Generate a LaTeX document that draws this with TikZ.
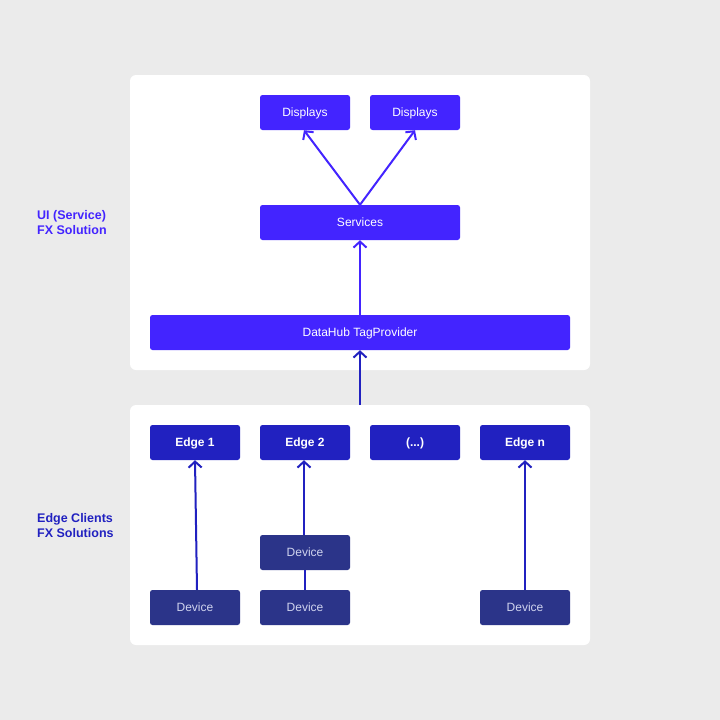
\documentclass[tikz,border=0pt]{standalone}
\usepackage{fontspec}
\setmainfont{Liberation Sans}
\usetikzlibrary{arrows.meta}
\definecolor{bgc}{HTML}{EBEBEB}
\definecolor{violet}{HTML}{4324FF}
\definecolor{edgec}{HTML}{2121C0}
\definecolor{devc}{HTML}{2B3489}
\definecolor{devtxt}{HTML}{D0D4EE}
\tikzset{
  panel/.style={fill=white, rounded corners=6pt, draw=none},
  boxbase/.style={rectangle, rounded corners=2.5pt, inner sep=0pt, text height=8pt, text depth=0pt, minimum width=90pt, minimum height=35pt, font=\fontsize{12}{14}\selectfont},
  topbox/.style={boxbase, fill=violet, text=white},
  edgebox/.style={boxbase, fill=edgec, text=white, font=\fontsize{12}{14}\selectfont\bfseries},
  devbox/.style={boxbase, fill=devc, text=devtxt},
  sidelabel/.style={anchor=north west, align=left, inner sep=0pt, font=\fontsize{12.5}{15}\selectfont\bfseries},
  barb/.tip={Straight Barb[length=6pt,width=13pt,line width=2pt]},
  varrow/.style={draw=violet, line width=2pt, -barb},
  earrow/.style={draw=edgec, line width=2pt, -barb},
}
\begin{document}
\begin{tikzpicture}[x=1pt,y=-1pt]
\path[fill=bgc, use as bounding box] (0,0) rectangle (720,720);
\fill[panel] (130,75) rectangle (590,370);
\fill[panel] (130,405) rectangle (590,645);
\coordinate (entry) at (360,405);

\node[topbox] (disp1) at (305,112.5) {Displays};
\node[topbox] (disp2) at (415,112.5) {Displays};
\node[topbox, minimum width=200pt] (serv) at (360,222.5) {Services};
\node[topbox, minimum width=420pt] (hub) at (360,332.5) {DataHub TagProvider};

\node[edgebox] (e1) at (195,442.5) {Edge 1};
\node[edgebox] (e2) at (305,442.5) {Edge 2};
\node[edgebox] (e3) at (415,442.5) {(...)};
\node[edgebox] (en) at (525,442.5) {Edge n};

\node[devbox] (d1) at (195,607.5) {Device};
\node[devbox] (d2) at (305,607.5) {Device};
\node[devbox] (d2m) at (305,552.5) {Device};
\node[devbox] (dn) at (525,607.5) {Device};

\node[sidelabel, text=violet] (lab1) at (37,210.5) {UI (Service)\\FX Solution};
\node[sidelabel, text=edgec] (lab2) at (37,513.5) {Edge Clients\\FX Solutions};

\draw[varrow] (serv.north) -- ([xshift=-1pt]disp1.south);
\draw[varrow] (serv.north) -- (disp2.south);
\draw[varrow] (hub.north) -- (serv.south);
\draw[earrow] (entry) -- (hub.south);

\draw[earrow] ([xshift=2pt]d1.north) -- (e1.south);
\draw[edgec, line width=2pt] (d2.north) -- (d2m.south);
\draw[earrow] ([xshift=-1pt]d2m.north) -- ([xshift=-1pt]e2.south);
\draw[earrow] (dn.north) -- (en.south);
\end{tikzpicture}
\end{document}
